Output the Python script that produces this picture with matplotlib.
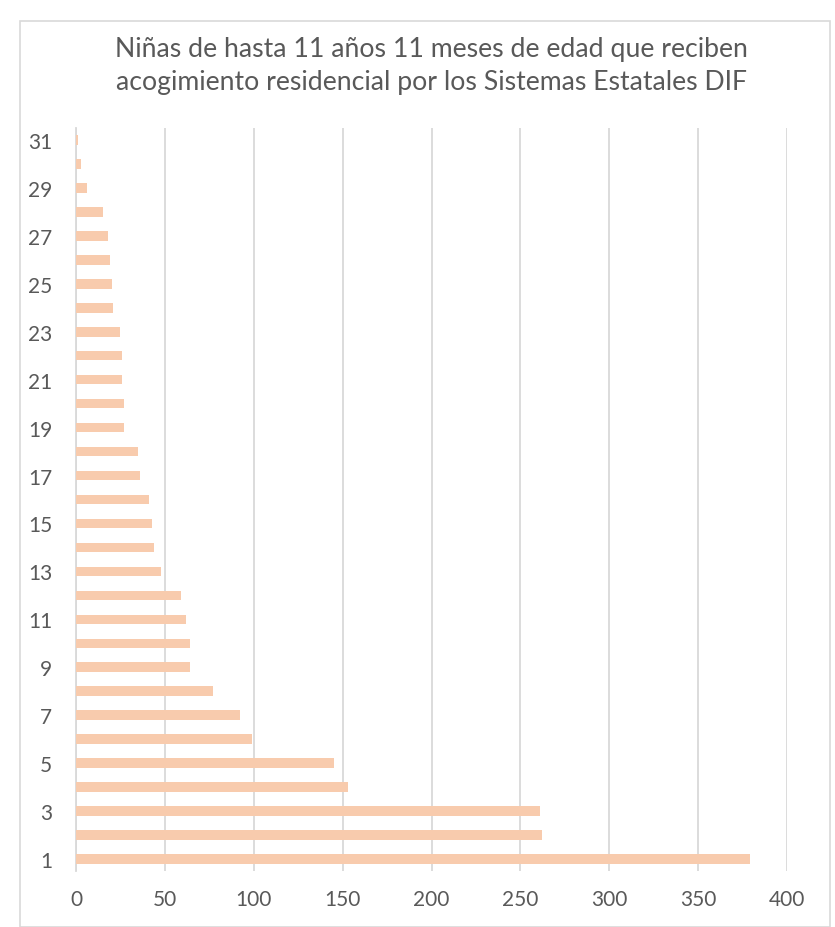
import matplotlib
matplotlib.use("Agg")
import matplotlib.pyplot as plt
from matplotlib.patches import Rectangle

# categories 1..31 and values
categorias = list(range(1, 32))
valores = [379, 262, 261, 153, 145, 99, 92, 77, 64, 64,
           62, 59, 48, 44, 43, 41, 36, 35, 27, 27,
           26, 26, 25, 21, 20, 19, 18, 15, 6, 3, 1]
etiquetas_x = [0, 50, 100, 150, 200, 250, 300, 350, 400]
titulo = ("Niñas de hasta 11 años 11 meses de edad que reciben\n"
          "acogimiento residencial por los Sistemas Estatales DIF")

plt.rcParams['font.family'] = ['Lato', 'DejaVu Sans']
gris_txt = '#595959'
gris_lin = '#D9D9D9'

fig = plt.figure(figsize=(8.35, 9.28), dpi=100)
fig.patches.append(Rectangle((20 / 835, 0), 810 / 835, 1 - 22 / 928,
                             transform=fig.transFigure, fill=False,
                             edgecolor=gris_lin, linewidth=1.2))

ax = fig.add_axes([76 / 835, 1 - 872 / 928, (787 - 76) / 835, (872 - 129) / 928])
pos = list(range(len(categorias)))
ax.barh(pos, valores, height=0.4, color='#F8CBAD', zorder=3)

ax.set_xlim(0, 400)
ax.set_ylim(-0.5, len(categorias) - 0.5)
ax.set_xticks(etiquetas_x)
ax.set_xticklabels([str(v) for v in etiquetas_x])
ax.set_yticks(pos[::2])
ax.set_yticklabels([str(c) for c in categorias[::2]])
ax.tick_params(axis='both', length=0, labelsize=15, colors=gris_txt)
ax.tick_params(axis='x', pad=13)
ax.tick_params(axis='y', pad=17)
ax.grid(axis='x', color=gris_lin, linewidth=1.3, zorder=0)
for s in ['top', 'right', 'bottom']:
    ax.spines[s].set_visible(False)
ax.spines['left'].set_color(gris_lin)
ax.spines['left'].set_linewidth(1.3)

fig.text(431 / 835, 1 - 66 / 928, titulo, ha='center', va='center',
         fontsize=19.2, color=gris_txt, linespacing=1.4)

fig.savefig('out.png', dpi=100)
